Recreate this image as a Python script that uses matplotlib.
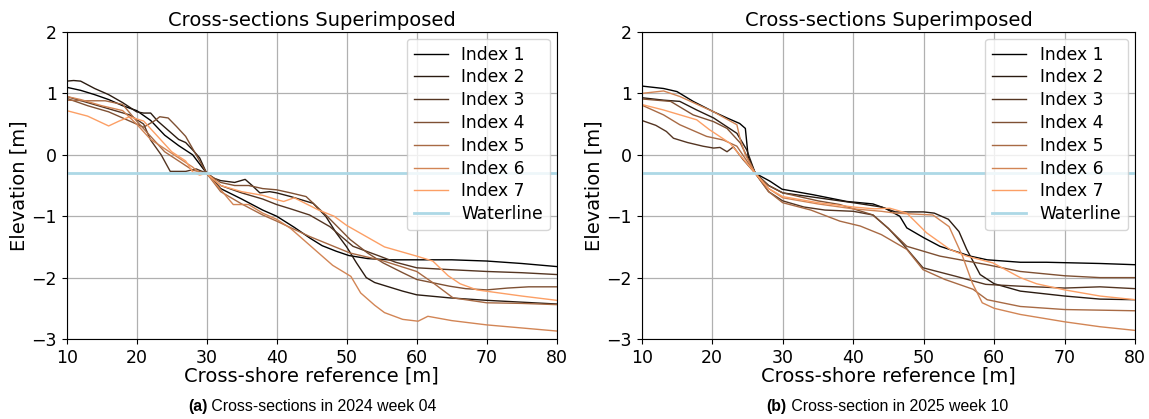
import numpy as np
import matplotlib
matplotlib.use("Agg")
import matplotlib.pyplot as plt

# ---------------- data (x [m], elevation [m]) ----------------
a_index1 = [(10,1.1),(12,1.05),(14,0.98),(16,0.9),(18,0.8),(20,0.72),(22,0.56),(24,0.32),(26,0.15),(28,0.0),
            (30,-0.3),(32,-0.55),(35,-0.72),(38,-0.9),(40,-1.0),(42.5,-1.18),(44.8,-1.36),(46.5,-1.48),(48.5,-1.57),
            (50.3,-1.64),(53,-1.69),(56,-1.71),(60,-1.71),(65,-1.71),(70,-1.73),(75,-1.77),(80,-1.82)]
a_index2 = [(10,1.2),(11,1.21),(12,1.2),(14,1.08),(16,0.98),(18,0.85),(20,0.7),(21,0.68),(22,0.68),(23,0.55),
            (24,0.45),(25,0.35),(26,0.25),(27,0.2),(28,0.08),(29,-0.05),(30,-0.3),(31,-0.38),(32,-0.42),(34,-0.45),
            (35.5,-0.4),(36.5,-0.5),(37.6,-0.62),(39,-0.6),(40,-0.62),(42,-0.68),(45.2,-0.79),(47,-1.0),(48.5,-1.27),
            (50,-1.5),(51.4,-1.76),(52.8,-2.0),(54,-2.08),(55.7,-2.14),(58,-2.22),(60,-2.28),(64.7,-2.33),(70,-2.37),
            (75,-2.4),(80,-2.43)]
a_index3 = [(10,0.95),(13,0.85),(16,0.75),(19,0.65),(21,0.5),(22,0.24),(23.5,0.0),(24.8,-0.27),(27,-0.27),
            (28.5,-0.23),(30,-0.3),(32,-0.5),(35,-0.62),(38,-0.72),(40,-0.81),(42,-0.88),(44.7,-0.98),(47.6,-1.17),
            (50.9,-1.49),(54.7,-1.65),(57,-1.75),(60,-1.84),(64.7,-1.87),(70,-1.9),(75,-1.92),(80,-1.95)]
a_index4 = [(10,0.92),(13,0.8),(16,0.7),(19,0.55),(21,0.45),(22.5,0.55),(23.3,0.62),(24.5,0.6),(25.7,0.46),
            (27,0.3),(28.1,0.08),(30,-0.3),(32,-0.45),(34,-0.5),(36,-0.5),(38,-0.55),(40,-0.57),(42,-0.62),
            (44.2,-0.68),(47.2,-1.0),(50.5,-1.38),(53,-1.6),(55.2,-1.76),(58,-1.92),(60,-2.03),(64.7,-2.14),
            (67,-2.18),(70,-2.2),(73,-2.17),(76,-2.15),(80,-2.15)]
a_index5 = [(10,0.89),(13,0.88),(15.5,0.88),(18,0.82),(20,0.55),(22,0.3),(24,0.05),(26,-0.1),(28,-0.25),(30,-0.3),
            (32,-0.6),(35,-0.8),(38,-0.98),(40,-1.08),(44.7,-1.33),(50.5,-1.6),(55,-1.72),(60,-1.9),(62.4,-2.09),
            (65.2,-2.33),(70,-2.41),(75,-2.42),(80,-2.44)]
a_index6 = [(10,0.95),(12,0.9),(15,0.8),(18,0.72),(20,0.5),(22,0.25),(24,0.1),(26,-0.05),(28,-0.2),(29,-0.3),
            (30,-0.3),(31.5,-0.5),(33.8,-0.81),(36,-0.81),(38,-0.95),(40,-1.05),(42,-1.2),(44,-1.4),(46,-1.6),
            (48,-1.8),(50.6,-1.98),(52,-2.25),(54,-2.45),(55.4,-2.57),(58,-2.68),(60.2,-2.71),(61.6,-2.63),
            (65,-2.7),(70,-2.77),(75,-2.82),(80,-2.87)]
a_index7 = [(10,0.72),(13,0.63),(16,0.47),(17.5,0.55),(19,0.62),(21,0.55),(23,0.3),(25,0.05),(27,-0.1),(28,-0.28),
            (29,-0.33),(30,-0.3),(32,-0.5),(35,-0.6),(38,-0.66),(40,-0.73),(41,-0.76),(42.5,-0.7),(46,-0.9),
            (48.2,-1.0),(50,-1.15),(55.4,-1.5),(60,-1.65),(62.3,-1.73),(64.5,-1.97),(66.2,-2.1),(68.6,-2.2),
            (75,-2.3),(80,-2.37)]

b_index1 = [(10,1.12),(13.1,1.08),(15,1.03),(17.3,0.87),(20.2,0.7),(22.1,0.6),(23.9,0.51),(24.7,0.43),(25.1,-0.03),
            (26.1,-0.3),(28.2,-0.43),(29.9,-0.56),(34.3,-0.65),(39.1,-0.76),(42.8,-0.8),(44.5,-0.87),(46.6,-1.0),
            (47.6,-1.19),(50,-1.35),(52.3,-1.49),(56.6,-1.65),(59,-1.71),(63.7,-1.75),(67.4,-1.75),(75,-1.77),(80,-1.79)]
b_index2 = [(10,0.93),(13.1,0.89),(15.4,0.87),(17.8,0.73),(20.2,0.6),(23.5,0.35),(24.9,0.08),(26.1,-0.3),
            (28,-0.5),(30,-0.62),(35,-0.7),(40,-0.78),(44,-0.85),(46,-0.93),(50,-0.93),(51.5,-0.95),(53.5,-1.05),
            (55,-1.25),(56.1,-1.54),(58,-1.95),(60,-2.1),(63.7,-2.22),(70,-2.3),(75,-2.35),(80,-2.36)]
b_index3 = [(10,0.56),(12,0.48),(13.5,0.38),(14.5,0.27),(16.5,0.2),(18.7,0.14),(20.2,0.11),(21.1,0.12),
            (22.1,0.05),(23,0.13),(24.4,-0.08),(26.1,-0.3),(28,-0.6),(30,-0.75),(33,-0.85),(36,-0.9),(40,-0.92),
            (42.8,-0.98),(45,-1.2),(47,-1.45),(49.9,-1.84),(54.6,-1.98),(58.8,-2.11),(63.7,-2.14),(70,-2.17),
            (75,-2.15),(80,-2.18)]
b_index4 = [(10,0.91),(14.1,0.87),(17.3,0.65),(20.2,0.54),(22.1,0.43),(24,0.19),(26.1,-0.3),(28,-0.5),(30,-0.62),
            (35,-0.75),(38.1,-0.81),(42.8,-0.98),(45,-1.2),(47.6,-1.49),(52.3,-1.65),(59,-1.79),(63.7,-1.9),
            (70,-1.97),(75,-2.0),(80,-2.0)]
b_index5 = [(10,0.81),(13.1,0.65),(15.4,0.49),(19.2,0.3),(21.6,0.24),(23.5,0.14),(26.1,-0.3),(28,-0.6),(30,-0.78),
            (34,-0.9),(38.1,-1.08),(41,-1.16),(44,-1.3),(47.6,-1.54),(49.9,-1.87),(53,-2.03),(57,-2.19),(59,-2.36),
            (63.7,-2.47),(70,-2.52),(75,-2.53),(80,-2.54)]
b_index6 = [(10,1.0),(13.1,1.04),(15.4,0.95),(20.2,0.7),(23.5,0.49),(24,0.24),(24.7,0.0),(26.1,-0.3),(28,-0.55),
            (30,-0.7),(35,-0.8),(40,-0.88),(44,-0.92),(46,-0.95),(49.5,-0.97),(51.3,-0.98),(53.6,-1.17),
            (55.5,-1.65),(56.9,-2.09),(58.3,-2.41),(60,-2.5),(63.7,-2.6),(70,-2.72),(75,-2.8),(80,-2.86)]
b_index7 = [(10,0.82),(13.1,0.73),(17.8,0.57),(19.6,0.41),(22.5,0.19),(26.1,-0.3),(28,-0.55),(30,-0.68),
            (35,-0.78),(40,-0.85),(43,-0.88),(45.2,-0.87),(47.6,-0.95),(50.4,-1.27),(53.7,-1.54),(56.1,-1.65),
            (59.8,-1.76),(63.7,-2.0),(66,-2.1),(70,-2.2),(75,-2.3),(80,-2.36)]

series_labels = ["Index 1", "Index 2", "Index 3", "Index 4", "Index 5", "Index 6", "Index 7"]
waterline_level = -0.3
panel_title = "Cross-sections Superimposed"
x_label = "Cross-shore reference [m]"
y_label = "Elevation [m]"
captions = [("(a)", " Cross-sections in 2024 week 04"), ("(b)", " Cross-section in 2025 week 10")]

panels = [
    [a_index1, a_index2, a_index3, a_index4, a_index5, a_index6, a_index7],
    [b_index1, b_index2, b_index3, b_index4, b_index5, b_index6, b_index7],
]

# ---------------- figure ----------------
plt.rcParams['font.family'] = ['DejaVu Sans']
fig = plt.figure(figsize=(11.49, 4.19), dpi=100)
colors = plt.cm.copper(np.linspace(0, 0.8, len(series_labels)))

axes_rects = [(0.0580, 0.1909, 0.4265, 0.7327), (0.5585, 0.1909, 0.4295, 0.7327)]
caption_x = [0.272, 0.772]
cap_size = 11.4
cap_y = 0.018

for rect, data, cap, cx in zip(axes_rects, panels, captions, caption_x):
    ax = fig.add_axes(rect)
    for pts, lab, col in zip(data, series_labels, colors):
        xs = [p[0] for p in pts]
        ys = [p[1] for p in pts]
        ax.plot(xs, ys, color=col, lw=1.0, label=lab)
    ax.axhline(waterline_level, color='lightblue', lw=2, label='Waterline')
    ax.set_xlim(10, 80)
    ax.set_ylim(-3, 2)
    ax.set_xticks([10, 20, 30, 40, 50, 60, 70, 80])
    ax.set_yticks([-3, -2, -1, 0, 1, 2])
    ax.grid(True, color='#b0b0b0', lw=0.9)
    ax.set_axisbelow(True)
    ax.tick_params(labelsize=12.5)
    ax.set_title(panel_title, fontsize=14, pad=4)
    ax.set_xlabel(x_label, fontsize=14, labelpad=0)
    ax.set_ylabel(y_label, fontsize=14, labelpad=2)
    ax.legend(loc='upper right', fontsize=12.3, labelspacing=0.28, handlelength=2.0,
              borderaxespad=0.4, framealpha=0.8)
    # caption: bold panel letter followed by regular text, centred as a whole
    t1 = fig.text(cx, cap_y, cap[0] + cap[1], fontsize=cap_size, family='Liberation Sans',
                  ha='center', va='baseline', color='white')
    fig.canvas.draw()
    bb = t1.get_window_extent()
    t1.remove()
    x0 = bb.x0 / fig.bbox.width
    ta = fig.text(x0, cap_y, cap[0], fontsize=cap_size, family='Liberation Sans', weight='bold',
                  ha='left', va='baseline')
    fig.canvas.draw()
    bba = ta.get_window_extent()
    fig.text(bba.x1 / fig.bbox.width, cap_y, cap[1], fontsize=cap_size, family='Liberation Sans',
             ha='left', va='baseline')

fig.savefig("out.png", dpi=100)
